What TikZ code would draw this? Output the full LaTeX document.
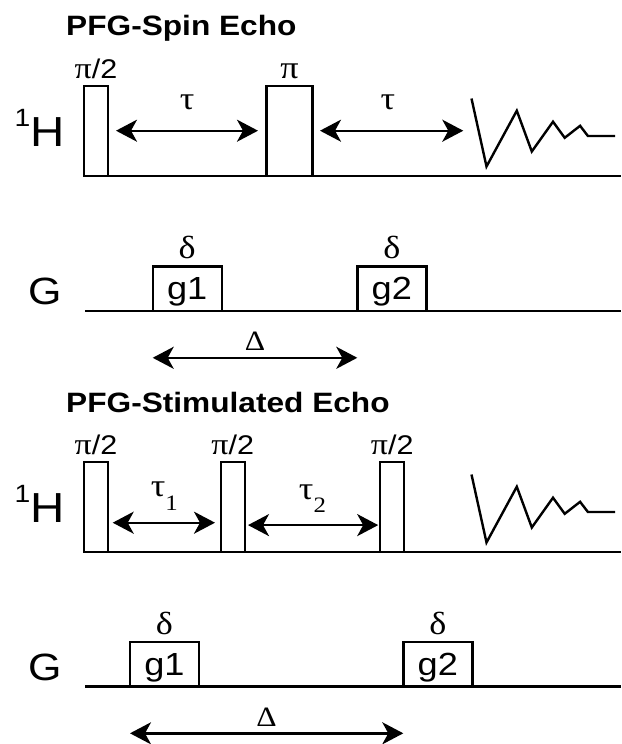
\documentclass[tikz,border=0pt]{standalone}
\usepackage{fontspec}
\setmainfont{Liberation Sans}[FakeStretch=1.13]
\newfontfamily\grk{Liberation Serif}[FakeStretch=1.13]
\usepackage{tikz}
\usetikzlibrary{arrows.meta}

\newcommand{\fid}[1]{\draw (#1) -- ++(15,68) -- ++(30.3,-55.8) -- ++(15,40.8) -- ++(21.2,-29.8) -- ++(11.7,16.1) -- ++(15.4,-12) -- ++(7.8,10.2) -- ++(27.1,0);}
\newcommand{\halfpi}{{\grk\fontsize{15}{17}\selectfont π}/2}

\begin{document}
\begin{tikzpicture}[x=0.5pt, y=-0.5pt, line width=1.2pt]
  \tikzset{
    title/.style={font=\fontsize{14}{16}\selectfont\bfseries, anchor=base west, inner sep=0},
    chan/.style={font=\fontsize{21}{24}\selectfont, anchor=base west, inner sep=0},
    pulse/.style={draw, minimum width=12pt, minimum height=45pt, anchor=south west, inner sep=0, outer sep=0},
    grad/.style={draw, minimum width=34.5pt, minimum height=22.3pt, anchor=south west, inner sep=0, outer sep=0, text depth=0pt, font=\fontsize{16}{18}\selectfont},
    grk/.style={font=\grk\fontsize{16}{18}\selectfont, inner sep=0},
    plabel/.style={font=\fontsize{13.5}{15}\selectfont, inner sep=0, yshift=3pt},
    dlabel/.style={grk, yshift=3pt},
    dur/.style={<->, >={Stealth[length=10.5pt, width=11pt, inset=3pt]}}
  }
  \useasboundingbox (0,0) rectangle (621,744);

  \node[title] (t1) at (65,35) {PFG-Spin Echo};
  \node[chan] (h1) at (13.5,146.7) {\raisebox{10pt}{\fontsize{12.5}{14}\selectfont 1}H};
  \node[pulse, label={[plabel]above:\halfpi}] (p1) at (84,175.7) {};
  \node[pulse, minimum width=23pt, label={[dlabel]above:π}] (p2) at (266.5,175.7) {};
  \coordinate (hend1) at (621,175.7);
  \coordinate (acq1) at (463.3,130.7);
  \coordinate (fid1) at (471.5,98.5);
  \draw (p1.south west) -- (hend1);
  \draw[dur, shorten <=4pt, shorten >=4.25pt] (p1.east) -- (p2.west) node[grk, midway, anchor=base, yshift=10.5pt] {τ};
  \draw[dur, shorten <=3.75pt] (p2.east) -- (acq1) node[grk, midway, anchor=base, yshift=10.5pt] {τ};
  \fid{fid1}

  \node[chan, font=\fontsize{19}{22}\selectfont] (gax1) at (27.6,304) {G};
  \coordinate (gstart1) at (85,311);
  \coordinate (gend1) at (621,311);
  \draw (gstart1) -- (gend1);
  \node[grad, label={[dlabel]above:δ}] (ga) at (152.7,311) {g1};
  \node[grad, label={[dlabel]above:δ}] (gb) at (357.3,311) {g2};
  \draw[dur] ([yshift=-23.4pt]ga.south west) -- ([yshift=-23.4pt]gb.south west) node[grk, midway, anchor=base, yshift=3.5pt, font=\grk\fontsize{14}{16}\selectfont] {Δ};

  \node[title] (t2) at (65,412) {PFG-Stimulated Echo};
  \node[chan] (h2) at (13.5,522.7) {\raisebox{10pt}{\fontsize{12.5}{14}\selectfont 1}H};
  \node[pulse, label={[plabel]above:\halfpi}] (q1) at (84,551.7) {};
  \node[pulse, label={[plabel]above:\halfpi}] (q2) at (220.7,551.7) {};
  \node[pulse, label={[plabel]above:\halfpi}] (q3) at (380.2,551.7) {};
  \coordinate (hend2) at (621,551.7);
  \coordinate (fid2) at (471.5,474.5);
  \draw (q1.south west) -- (hend2);
  \draw[dur, shorten <=2.35pt, shorten >=2.85pt] ([yshift=-8pt]q1.east) -- ([yshift=-8pt]q2.west) node[grk, midway, anchor=base, yshift=13pt] {τ\raisebox{-6.7pt}{\fontsize{11}{12}\selectfont 1}};
  \draw[dur, shorten <=1.65pt, shorten >=1pt] ([yshift=-9.2pt]q2.east) -- ([yshift=-9.2pt]q3.west) node[grk, midway, anchor=base, yshift=13pt] {τ\raisebox{-6.7pt}{\fontsize{11}{12}\selectfont 2}};
  \fid{fid2}

  \node[chan, font=\fontsize{19}{22}\selectfont] (gax2) at (27.6,680) {G};
  \coordinate (gstart2) at (85,686.5);
  \coordinate (gend2) at (621,686.5);
  \draw (gstart2) -- (gend2);
  \node[grad, label={[dlabel]above:δ}] (gc) at (130,686.5) {g1};
  \node[grad, label={[dlabel]above:δ}] (gd) at (403.3,686.5) {g2};
  \draw[dur] ([yshift=-23.4pt]gc.south west) -- ([yshift=-23.4pt]gd.south west) node[grk, midway, anchor=base, yshift=3.5pt, font=\grk\fontsize{14}{16}\selectfont] {Δ};
\end{tikzpicture}
\end{document}
